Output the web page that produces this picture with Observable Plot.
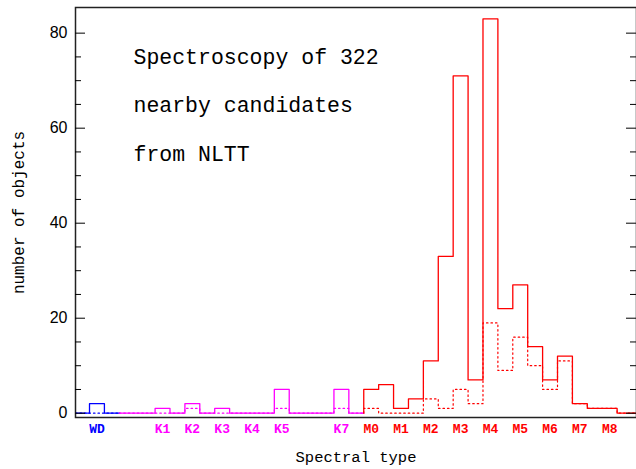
<!DOCTYPE html>
<html><head><meta charset="utf-8">
<script src="https://cdn.jsdelivr.net/npm/d3@7"></script>
<script src="https://cdn.jsdelivr.net/npm/@observablehq/plot@0.6"></script>
<style>body{margin:0;background:#fff}</style>
</head><body><div id="chart"></div>
<script>
// Tick labels along the spectral-type axis (positions in subclass units, K0 = 0, M0 = 8)
const typeLabels = ["WD","K1","K2","K3","K4","K5","K7","M0","M1","M2","M3","M4","M5","M6","M7","M8"];
const typePos    = [-1.2, 1, 2, 3, 4, 5, 7, 8, 9, 10, 11, 12, 13, 14, 15, 16];
const typeColor  = ["#0000ff","#ff00ff","#ff00ff","#ff00ff","#ff00ff","#ff00ff","#ff00ff",
                    "#ff0000","#ff0000","#ff0000","#ff0000","#ff0000","#ff0000","#ff0000","#ff0000","#ff0000"];

// White dwarfs
const wdEdges  = [-1.92, -1.45, -0.95, -0.45];
const wdTotal  = [0, 2, 0];
const wdDotted = [0, 0, 0];

// K dwarfs (half-subclass bins)
const kEdges  = [-0.45, 0.75, 1.25, 1.75, 2.25, 2.75, 3.25, 3.75, 4.25, 4.75, 5.25, 5.75, 6.25, 6.75, 7.25, 7.75];
const kTotal  = [0, 1, 0, 2, 0, 1, 0, 0, 0, 5, 0, 0, 0, 5, 0];
const kDotted = [0, 0, 0, 1, 0, 0, 0, 0, 0, 1, 0, 0, 0, 1, 0];

// M dwarfs (half-subclass bins M0 .. M8.5)
const mEdges  = [7.75, 8.25, 8.75, 9.25, 9.75, 10.25, 10.75, 11.25, 11.75, 12.25, 12.75, 13.25, 13.75, 14.25, 14.75, 15.25, 15.75, 16.25, 17];
const mTotal  = [5, 6, 1, 3, 11, 33, 71, 7, 83, 22, 27, 14, 7, 12, 2, 1, 1, 0];
const mDotted = [1, 0, 0, 0, 3, 1, 5, 2, 19, 9, 16, 10, 5, 11, 2, 1, 1, 0];

const yLabelTicks = [0, 20, 40, 60, 80];
const yMinorTicks = [5, 10, 15, 25, 30, 35, 45, 50, 55, 65, 70, 75];

const titleLines = ["Spectroscopy of 322", "nearby candidates", "from NLTT"];

function steps(edges, counts) {
  const pts = [{x: edges[0], y: 0}];
  counts.forEach((c, i) => { pts.push({x: edges[i], y: c}); pts.push({x: edges[i + 1], y: c}); });
  return pts;
}

const groups = [
  {edges: wdEdges, total: wdTotal, dotted: wdDotted, color: "#0000ff"},
  {edges: kEdges,  total: kTotal,  dotted: kDotted,  color: "#ff00ff"},
  {edges: mEdges,  total: mTotal,  dotted: mDotted,  color: "#ff0000"}
];

const marks = [];
for (const g of groups) {
  marks.push(Plot.line(steps(g.edges, g.dotted), {x: "x", y: "y", stroke: g.color, strokeWidth: 1.2, strokeDasharray: "1.5,3", clip: true}));
}
for (const g of groups) {
  marks.push(Plot.line(steps(g.edges, g.total), {x: "x", y: "y", stroke: g.color, strokeWidth: 1.3, clip: true}));
}

const mono = "'Liberation Mono', 'DejaVu Sans Mono', monospace";
const frameW = 636 - 75;

const chart = Plot.plot({
  width: 636, height: 469,
  marginLeft: 75, marginRight: 0, marginTop: 7, marginBottom: 52,
  x: {domain: [-1.92, 16.9], axis: null},
  y: {domain: [-0.9, 85.4], axis: null},
  color: {type: "identity"},
  style: {background: "#fff"},
  marks: [
    ...marks,
    Plot.frame({stroke: "#222", strokeWidth: 1.5}),
    // inward ticks on left and right edges
    Plot.tickY(yLabelTicks, {y: d => d, insetRight: frameW - 10, stroke: "#000"}),
    Plot.tickY(yMinorTicks, {y: d => d, insetRight: frameW - 6, stroke: "#000"}),
    Plot.tickY(yLabelTicks, {y: d => d, insetLeft: frameW - 10, stroke: "#000"}),
    Plot.tickY(yMinorTicks, {y: d => d, insetLeft: frameW - 6, stroke: "#000"}),
    Plot.axisY({anchor: "left", ticks: yLabelTicks, tickSize: 0, tickPadding: 8, label: null,
      fontSize: 16, fontFamily: "'Liberation Sans', Arial, sans-serif", fill: "#000"}),
    Plot.text(typeLabels, {x: (d, i) => typePos[i], text: d => d, fill: (d, i) => typeColor[i],
      frameAnchor: "bottom", lineAnchor: "bottom", dy: 15, fontSize: 13, fontWeight: "bold", fontFamily: mono}),
    Plot.text(["Spectral type"], {frameAnchor: "bottom", lineAnchor: "bottom", dy: 44, fontSize: 15.5, fontFamily: mono, fill: "#000"}),
    Plot.text(["number of objects"], {frameAnchor: "left", textAnchor: "middle", lineAnchor: "middle", dx: -57, rotate: -90,
      fontSize: 16, fontFamily: mono, fill: "#000"}),
    Plot.text([titleLines.join("\n")], {frameAnchor: "top-left", dx: 58, dy: 22, lineAnchor: "top", textAnchor: "start",
      lineHeight: 2.25, fontSize: 21.5, fontFamily: mono, fill: "#000"})
  ]
});
document.getElementById("chart").appendChild(chart);
</script>
</body></html>
